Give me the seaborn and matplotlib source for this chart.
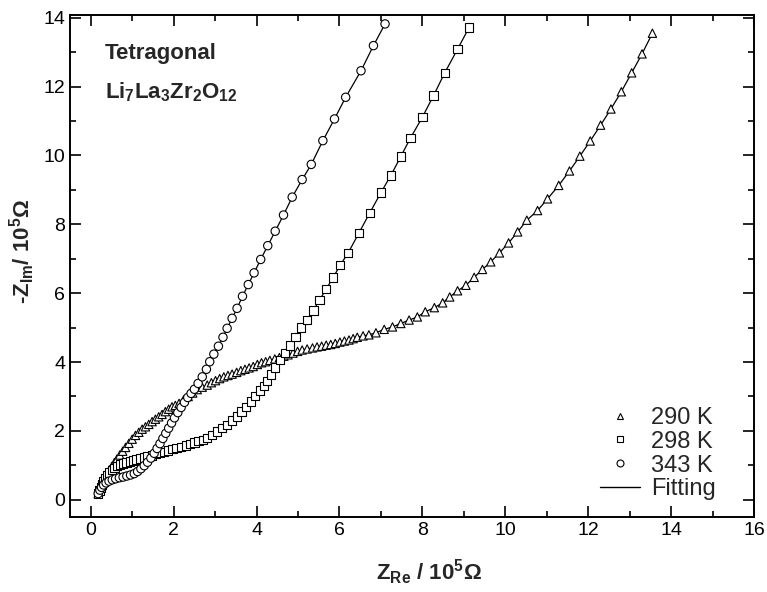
import numpy as np
import pandas as pd
import matplotlib
matplotlib.use("Agg")
import matplotlib.pyplot as plt
import seaborn as sns
from matplotlib.lines import Line2D

# ---- data (Z_Re, -Z_Im in 10^5 Ohm) ----
x290 = [0.18, 0.22, 0.26, 0.30, 0.35, 0.40, 0.45, 0.51, 0.57, 0.63, 0.70, 0.77, 0.84, 0.92,
        1.00, 1.08, 1.16, 1.24, 1.32, 1.40, 1.48, 1.56, 1.64, 1.72, 1.80, 1.88, 1.96, 2.04,
        2.13, 2.24, 2.35, 2.46, 2.57, 2.69, 2.81, 2.91, 3.01, 3.11, 3.21, 3.31, 3.41, 3.52,
        3.62, 3.72, 3.82, 3.92, 4.02, 4.12, 4.22, 4.32, 4.44, 4.55, 4.66, 4.76, 4.88, 4.99,
        5.10, 5.22, 5.35, 5.46, 5.57, 5.68, 5.79, 5.90, 6.01, 6.12, 6.23, 6.33, 6.43, 6.57,
        6.71, 6.88, 7.08, 7.28, 7.48, 7.68, 7.88, 8.07, 8.29, 8.49, 8.66, 8.85, 9.05, 9.25,
        9.45, 9.65, 9.86, 10.08, 10.30, 10.52, 10.78, 11.02, 11.29, 11.55, 11.80, 12.05,
        12.30, 12.55, 12.80, 13.05, 13.30, 13.55]
y290 = [0.18, 0.30, 0.42, 0.53, 0.65, 0.76, 0.87, 0.97, 1.08, 1.18, 1.30, 1.41, 1.52, 1.64,
        1.76, 1.87, 1.96, 2.05, 2.12, 2.19, 2.27, 2.34, 2.41, 2.48, 2.56, 2.63, 2.70, 2.74,
        2.80, 2.90, 3.00, 3.10, 3.20, 3.27, 3.33, 3.40, 3.46, 3.52, 3.57, 3.61, 3.65, 3.70,
        3.75, 3.79, 3.83, 3.87, 3.93, 3.98, 4.01, 4.05, 4.09, 4.13, 4.17, 4.21, 4.26, 4.31,
        4.35, 4.38, 4.41, 4.44, 4.46, 4.49, 4.51, 4.54, 4.58, 4.61, 4.64, 4.68, 4.72, 4.76,
        4.79, 4.85, 4.95, 5.02, 5.12, 5.22, 5.31, 5.46, 5.58, 5.72, 5.89, 6.07, 6.23, 6.46,
        6.69, 6.91, 7.17, 7.46, 7.78, 8.12, 8.40, 8.74, 9.13, 9.55, 9.98, 10.42,
        10.88, 11.35, 11.85, 12.40, 12.95, 13.55]

x298 = [0.18, 0.21, 0.24, 0.27, 0.31, 0.35, 0.40, 0.45, 0.51, 0.57, 0.64, 0.71, 0.78, 0.86,
        0.94, 1.02, 1.10, 1.19, 1.28, 1.37, 1.47, 1.57, 1.67, 1.77, 1.87, 1.97, 2.07, 2.18,
        2.29, 2.40, 2.50, 2.60, 2.70, 2.81, 2.93, 3.05, 3.17, 3.29, 3.41, 3.53, 3.64, 3.74,
        3.86, 3.97, 4.08, 4.18, 4.26, 4.35, 4.44, 4.56, 4.68, 4.80, 4.94, 5.08, 5.22, 5.37,
        5.52, 5.68, 5.85, 6.02, 6.21, 6.47, 6.73, 7.00, 7.24, 7.48, 7.71, 8.00, 8.27, 8.54,
        8.85, 9.13]
y298 = [0.18, 0.27, 0.36, 0.44, 0.53, 0.62, 0.71, 0.79, 0.86, 0.92, 0.98, 1.02, 1.05, 1.08,
        1.11, 1.14, 1.17, 1.20, 1.23, 1.26, 1.29, 1.32, 1.35, 1.39, 1.43, 1.47, 1.50, 1.54,
        1.58, 1.62, 1.66, 1.70, 1.74, 1.80, 1.88, 1.98, 2.08, 2.18, 2.30, 2.42, 2.56, 2.70,
        2.85, 3.01, 3.17, 3.30, 3.45, 3.64, 3.84, 4.05, 4.27, 4.48, 4.72, 5.00, 5.22, 5.50,
        5.80, 6.12, 6.46, 6.82, 7.17, 7.75, 8.33, 8.92, 9.42, 9.97, 10.50, 11.11, 11.74, 12.40,
        13.09, 13.72]

x343 = [0.18, 0.22, 0.26, 0.31, 0.37, 0.44, 0.52, 0.60, 0.69, 0.78, 0.87, 0.96, 1.05, 1.13,
        1.21, 1.29, 1.37, 1.45, 1.53, 1.60, 1.67, 1.74, 1.81, 1.88, 1.95, 2.02, 2.10, 2.18,
        2.26, 2.34, 2.42, 2.50, 2.59, 2.69, 2.79, 2.87, 2.97, 3.08, 3.19, 3.29, 3.41, 3.53,
        3.66, 3.80, 3.94, 4.10, 4.27, 4.45, 4.65, 4.86, 5.10, 5.32, 5.60, 5.88, 6.15, 6.52,
        6.82, 7.10]
y343 = [0.18, 0.28, 0.36, 0.43, 0.49, 0.54, 0.58, 0.61, 0.64, 0.66, 0.69, 0.72, 0.76, 0.82,
        0.90, 0.99, 1.09, 1.21, 1.35, 1.49, 1.63, 1.78, 1.93, 2.08, 2.23, 2.38, 2.53, 2.68,
        2.83, 2.97, 3.09, 3.21, 3.38, 3.57, 3.79, 4.01, 4.23, 4.46, 4.72, 4.98, 5.27, 5.56,
        5.91, 6.25, 6.59, 6.98, 7.38, 7.80, 8.27, 8.79, 9.30, 9.74, 10.43, 11.06, 11.69, 12.46,
        13.19, 13.82]

labels = ["290 K", "298 K", "343 K"]
markers = ["^", "s", "o"]

df = pd.concat([
    pd.DataFrame({"x": x290, "y": y290, "T": labels[0]}),
    pd.DataFrame({"x": x298, "y": y298, "T": labels[1]}),
    pd.DataFrame({"x": x343, "y": y343, "T": labels[2]}),
], ignore_index=True)

sns.set_style("ticks")
plt.rcParams["font.family"] = ["Liberation Sans", "DejaVu Sans"]
plt.rcParams["mathtext.fontset"] = "custom"
plt.rcParams["mathtext.rm"] = "Liberation Sans"
plt.rcParams["mathtext.bf"] = "Liberation Sans:bold"
plt.rcParams["mathtext.it"] = "Liberation Sans:italic"

fig = plt.figure(figsize=(7.67, 5.92), dpi=100)
ax = fig.add_axes([0.0913, 0.1267, 0.8917, 0.848])

# fitting lines
for lab in labels:
    sub = df[df["T"] == lab]
    sns.lineplot(data=sub, x="x", y="y", sort=False, estimator=None, color="black",
                 lw=0.9, ax=ax, legend=False)

# markers
sns.scatterplot(data=df, x="x", y="y", style="T", markers=dict(zip(labels, markers)),
                s=36, facecolor="white", edgecolor="black", linewidth=0.8,
                ax=ax, legend=False, zorder=3)

ax.set_xlim(-0.5, 16)
ax.set_ylim(-0.5, 14.08)
ax.set_xticks(np.arange(0, 17, 2))
ax.set_yticks(np.arange(0, 15, 2))
ax.set_xticks(np.arange(1, 16, 2), minor=True)
ax.set_yticks(np.arange(1, 14, 2), minor=True)
ax.tick_params(which="both", direction="in", top=True, right=True, labelsize=14,
               width=1.2, colors="black")
ax.tick_params(which="major", length=8)
ax.tick_params(which="minor", length=4)
for s in ax.spines.values():
    s.set_linewidth(1.4)
    s.set_color("black")

ax.set_xlabel(r"Z$_\mathbf{Re}$ / 10$^\mathbf{5}$Ω", fontsize=16, fontweight="bold")
ax.set_ylabel(r"-Z$_\mathbf{Im}$/ 10$^\mathbf{5}$Ω", fontsize=16, fontweight="bold")
ax.xaxis.set_label_coords(0.525, -0.08)
ax.yaxis.set_label_coords(-0.048, 0.53)

ax.text(0.051, 0.913, "Tetragonal", transform=ax.transAxes, fontsize=16,
        fontweight="bold", ha="left", va="baseline")
ax.text(0.051, 0.833, r"$\mathbf{Li_7La_3Zr_2O_{12}}$", transform=ax.transAxes,
        fontsize=16, ha="left", va="baseline")

handles = [Line2D([], [], ls="none", marker=m, mfc="white", mec="black", ms=5, mew=0.8)
           for m in markers]
handles.append(Line2D([], [], color="black", lw=1.0))
leg = ax.legend(handles, labels + ["Fitting"], loc="lower right", frameon=False,
                fontsize=17, handlelength=1.7, handletextpad=0.45, labelspacing=0.08,
                borderaxespad=0.3, bbox_to_anchor=(0.968, 0.0))

fig.savefig("out.png", dpi=100)
